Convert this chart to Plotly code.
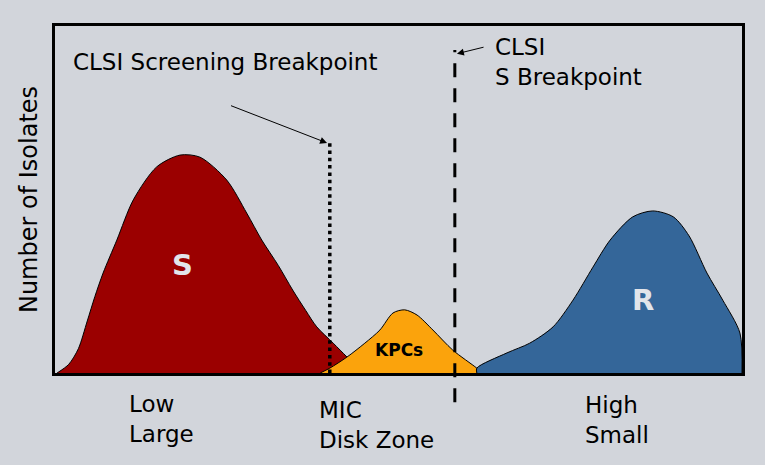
import plotly.graph_objects as go

# Curve outlines (x: MIC / zone scale 0-100, y: number of isolates 0-100)
s_x = [0.3, 2.0, 3.4, 4.7, 5.8, 7.0, 9.0, 11.4, 14.8, 18.2, 21.1, 25.0, 27.9, 30.1, 32.5, 34.6, 36.5, 38.1, 40.5, 42.5, 44.7]
s_y = [0, 2.5, 7.0, 15.0, 22.0, 28.8, 38.3, 49.9, 59.4, 62.8, 62.2, 55.6, 46.1, 38.3, 31.0, 23.9, 18.0, 13.3, 8.6, 4.6, 0]

kpc_x = [38.6, 40.0, 42.5, 45.1, 47.3, 49.2, 50.9, 52.7, 55.0, 57.9, 61.4, 62.2]
kpc_y = [0, 1.4, 4.6, 8.6, 12.4, 17.3, 18.2, 16.7, 12.4, 6.6, 1.4, 0]

r_x = [61.4, 61.4, 65.8, 69.1, 72.5, 75.4, 78.3, 80.8, 84.1, 87.0, 90.0, 92.3, 94.9, 97.2, 99.7, 100]
r_y = [0, 1.4, 5.8, 8.6, 13.3, 21.0, 30.5, 38.3, 45.0, 46.7, 45.0, 39.5, 28.8, 21.0, 11.5, 0]

screening_bp_x = 40.0
screening_bp_top = 66.3
s_bp_x = 58.2
s_bp_top = 93.1

bg = "#D2D5DB"
font_family = "DejaVu Sans"

fig = go.Figure()
for xs, ys, col in [(s_x, s_y, "#9B0000"), (kpc_x, kpc_y, "#FBA30C"), (r_x, r_y, "#346699")]:
    fig.add_trace(go.Scatter(x=xs, y=ys, fill="toself", fillcolor=col,
                             line=dict(color="black", width=1, shape="spline", smoothing=0.8),
                             mode="lines", hoverinfo="skip"))

# breakpoint lines
fig.add_shape(type="line", xref="x", yref="y", x0=screening_bp_x, x1=screening_bp_x,
              y0=0, y1=screening_bp_top, line=dict(color="black", width=3.5, dash="3.5px,3.8px"))
fig.add_shape(type="line", xref="x", yref="paper", x0=s_bp_x, x1=s_bp_x,
              y0=-0.084, y1=0.931, line=dict(color="black", width=3, dash="14px,11px"))

anns = []
txt = dict(family=font_family, size=23, color="black")
anns.append(dict(x=2.4, y=89.6, xref="x", yref="y", text="CLSI Screening Breakpoint",
                 showarrow=False, xanchor="left", yanchor="middle", font=txt))
anns.append(dict(x=screening_bp_x - 0.4, y=screening_bp_top, xref="x", yref="y",
                 ax=25.4, ay=77.2, axref="x", ayref="y", text="", showarrow=True,
                 arrowhead=2, arrowsize=1.4, arrowwidth=1, arrowcolor="black"))
anns.append(dict(x=63.7, y=89.6, xref="x", yref="y", text="CLSI<br>S Breakpoint",
                 showarrow=False, xanchor="left", yanchor="middle", align="left", font=txt))
anns.append(dict(x=s_bp_x + 0.3, y=92.0, xref="x", yref="y",
                 ax=62.6, ay=94.0, axref="x", ayref="y", text="", showarrow=True,
                 arrowhead=2, arrowsize=1.4, arrowwidth=1, arrowcolor="black"))
anns.append(dict(x=18.5, y=31.1, xref="x", yref="y", text="<b>S</b>", showarrow=False,
                 font=dict(family=font_family, size=29, color="#E2E5EA")))
anns.append(dict(x=85.6, y=21.0, xref="x", yref="y", text="<b>R</b>", showarrow=False,
                 font=dict(family=font_family, size=29, color="#E2E5EA")))
anns.append(dict(x=50.1, y=6.6, xref="x", yref="y", text="<b>KPCs</b>", showarrow=False,
                 font=dict(family=font_family, size=17, color="black")))
for xx, yy, label in [(10.5, -0.045, "Low<br>Large"), (38.2, -0.062, "MIC<br>Disk Zone"),
                      (76.9, -0.049, "High<br>Small")]:
    anns.append(dict(x=xx, y=yy, xref="x", yref="paper", text=label, showarrow=False,
                     xanchor="left", yanchor="top", align="left", font=txt))

fig.update_layout(
    width=765, height=465,
    margin=dict(l=55, r=23, t=26, b=92),
    paper_bgcolor=bg, plot_bgcolor=bg,
    showlegend=False,
    annotations=anns,
    font=dict(family=font_family, color="black"),
)
fig.update_xaxes(range=[0, 100], showgrid=False, zeroline=False, showticklabels=False,
                 ticks="", showline=True, linecolor="black", linewidth=3, mirror=True)
fig.update_yaxes(range=[0, 100], showgrid=False, zeroline=False, showticklabels=False,
                 ticks="", showline=True, linecolor="black", linewidth=3, mirror=True,
                 title=dict(text="Number of Isolates", standoff=8,
                            font=dict(family=font_family, size=24, color="black")))

fig.write_html("out.html")
